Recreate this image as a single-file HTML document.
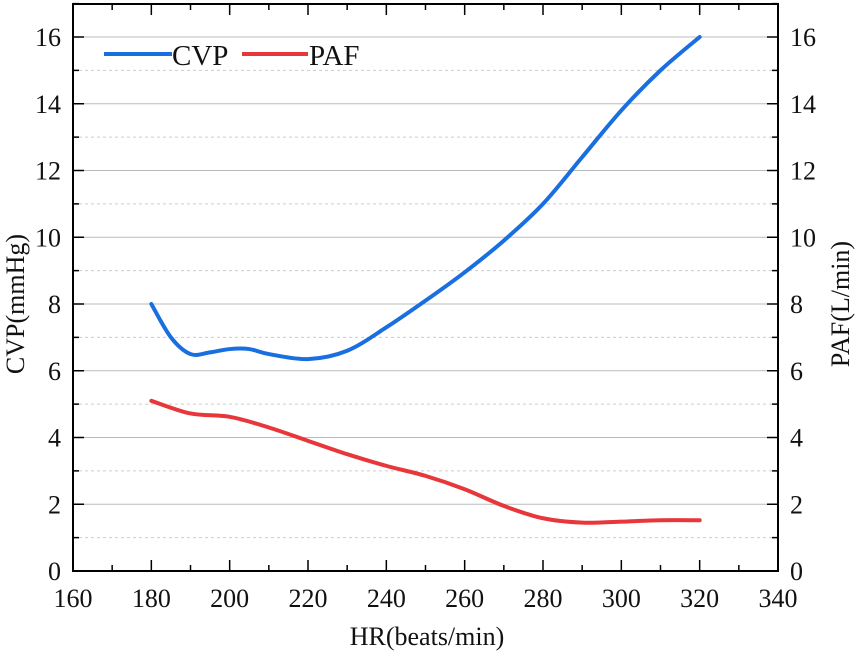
<!DOCTYPE html>
<html><head><meta charset="utf-8"><style>
body{margin:0;background:#fff}
svg text{font-family:"Liberation Serif",serif;fill:#111}
</style></head><body>
<svg id="c" width="855" height="657"></svg>
<script>
const hr=[180,185,190,195,200,205,210,220,230,240,250,260,270,280,290,300,310,320];
const cvp=[8,7.0,6.5,6.55,6.65,6.65,6.5,6.35,6.6,7.3,8.1,8.95,9.9,11.0,12.4,13.8,15.0,16.0];
const hrPaf=[180,190,200,210,220,230,240,250,260,270,280,290,300,310,320];
const paf=[5.1,4.72,4.62,4.3,3.9,3.5,3.15,2.85,2.45,1.95,1.58,1.45,1.48,1.52,1.52];
const xTicks=[160,180,200,220,240,260,280,300,320,340];
const yTicks=[0,2,4,6,8,10,12,14,16];
const L=73,R=778,T=4,B=571;
const X=v=>L+(v-160)/180*(R-L);
const Y=v=>B-v/16*(B-37);
const s=document.getElementById('c');
const NS='http://www.w3.org/2000/svg';
function mk(t,a,p){const e=document.createElementNS(NS,t);for(const k in a)e.setAttribute(k,a[k]);(p||s).appendChild(e);return e;}
for(let v=1;v<=17;v++){const y=Y(v);const g=mk('line',{x1:L,x2:R,y1:y,y2:y,stroke:v%2?'#ccc':'#bbb','stroke-width':1,'stroke-dasharray':v%2?'3,3':''});

}
mk('rect',{x:L,y:T,width:R-L,height:B-T,fill:'none',stroke:'#000','stroke-width':2});
for(let v=160;v<=340;v+=10){const x=X(v),len=v%20?6:11;
mk('line',{x1:x,x2:x,y1:B,y2:B-len,stroke:'#000','stroke-width':1.5});
mk('line',{x1:x,x2:x,y1:T,y2:T+len,stroke:'#000','stroke-width':1.5});}
for(let v=1;v<=17;v++){const y=Y(v),len=v%2?6:11;
mk('line',{x1:L,x2:L+len,y1:y,y2:y,stroke:'#000','stroke-width':1.5});
mk('line',{x1:R,x2:R-len,y1:y,y2:y,stroke:'#000','stroke-width':1.5});}
xTicks.forEach(v=>{const t=mk('text',{x:X(v),y:607,'text-anchor':'middle','font-size':26});t.textContent=v;

});
yTicks.forEach(v=>{const t=mk('text',{x:L-12,y:Y(v)+9,'text-anchor':'end','font-size':26});t.textContent=v;


const t2=mk('text',{x:R+12,y:Y(v)+9,'text-anchor':'start','font-size':26});t2.textContent=v;

});
function curve(xs,ys,col,name){let d='';const p=xs.map((x,i)=>[X(x),Y(ys[i])]);
d='M'+p[0];for(let i=0;i<p.length-1;i++){const p0=p[Math.max(0,i-1)],p1=p[i],p2=p[i+1],p3=p[Math.min(p.length-1,i+2)];
const c1=[p1[0]+(p2[0]-p0[0])/6,p1[1]+(p2[1]-p0[1])/6],c2=[p2[0]-(p3[0]-p1[0])/6,p2[1]-(p3[1]-p1[1])/6];d+='C'+c1+' '+c2+' '+p2;}
const e=mk('path',{d,fill:'none',stroke:col,'stroke-width':4,'stroke-linecap':'round'});

}
curve(hr,cvp,'#1a6fe0','cvp-line');
curve(hrPaf,paf,'#e8373a','paf-line');
</script>
<svg style="position:absolute;left:0;top:0" width="855" height="657">
<g>
<line x1="104" x2="172" y1="54" y2="54" stroke="#1a6fe0" stroke-width="4"/>
<text x="172" y="65" font-size="29">CVP</text>
<line x1="242" x2="308" y1="54" y2="54" stroke="#e8373a" stroke-width="4"/>
<text x="309" y="65" font-size="29">PAF</text>
</g>
<text x="427" y="645" font-size="26" text-anchor="middle">HR(beats/min)</text>
<text transform="translate(24,304) rotate(-90)" font-size="26" text-anchor="middle">CVP(mmHg)</text>
<text transform="translate(849,304) rotate(-90)" font-size="26" text-anchor="middle">PAF(L/min)</text>
</svg>
</body></html>
